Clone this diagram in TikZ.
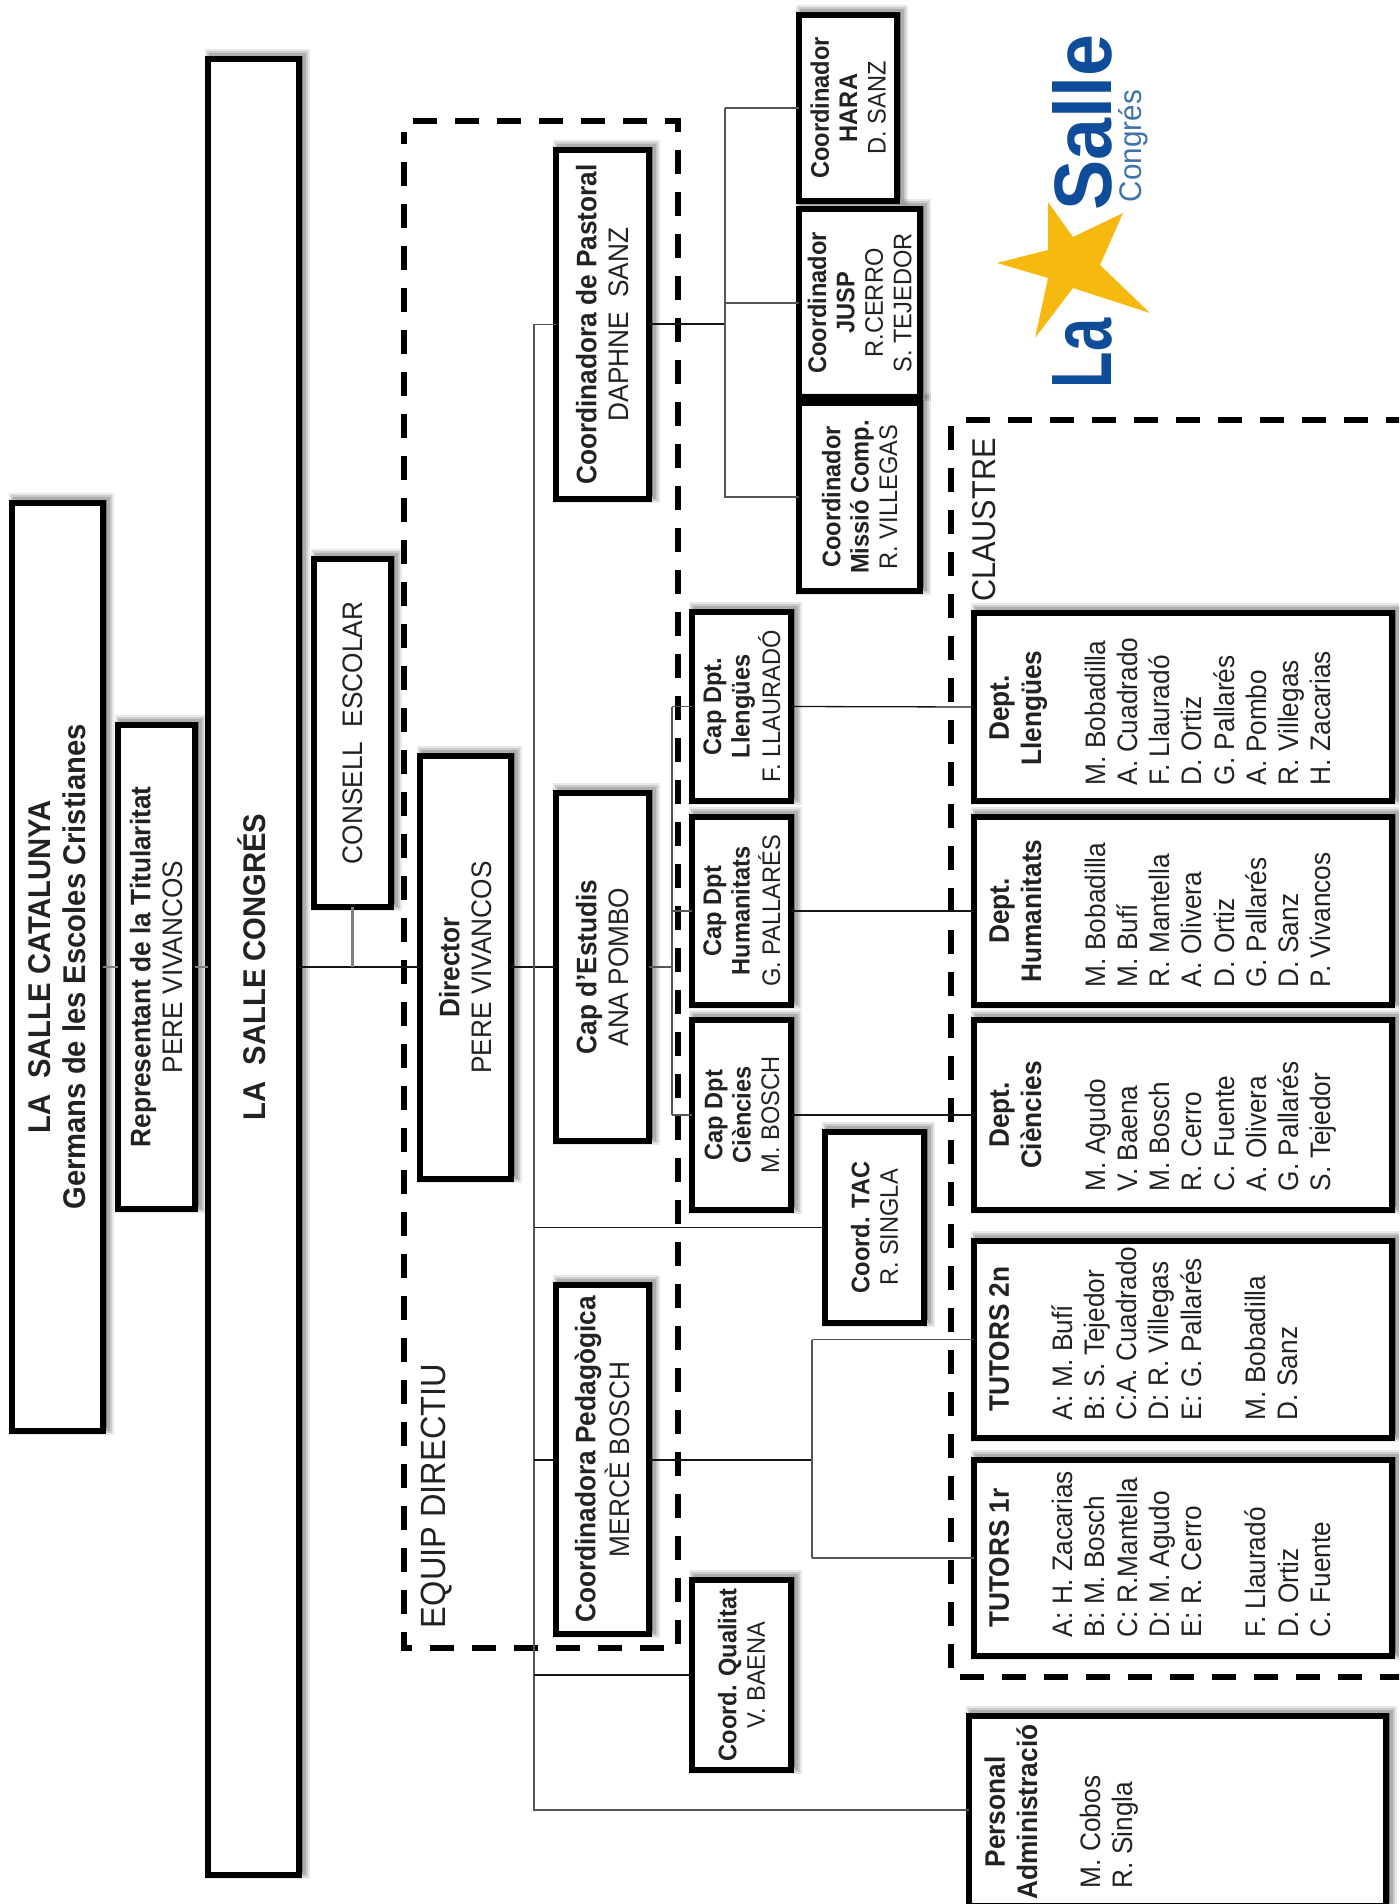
\documentclass[tikz,border=0pt]{standalone}
\usepackage{fontspec}
\usepackage{graphicx}
\setmainfont[FakeStretch=0.93]{Liberation Sans}
\definecolor{inkc}{HTML}{222222}
\definecolor{linec}{HTML}{555555}
\definecolor{dark}{HTML}{151515}
\definecolor{sblue}{HTML}{0F4C9A}
\definecolor{cblue}{HTML}{3F72A8}
\definecolor{stary}{HTML}{F5B90F}
\tikzset{
  bx/.style={draw=black,line width=2.75pt,fill=white,inner sep=0pt,outer sep=0pt,text=inkc,align=center,
    preaction={draw=black,fill=black,opacity=.09,line width=7pt,transform canvas={xshift=2pt,yshift=1.5pt}},
    preaction={draw=black,fill=black,opacity=.12,line width=5pt,transform canvas={xshift=2pt,yshift=1.5pt}},
    preaction={draw=black,fill=black,opacity=.15,line width=3pt,transform canvas={xshift=2pt,yshift=1.5pt}}},
  fmain/.style={font=\fontsize{14.1}{16.1}\selectfont},
  fsmall/.style={font=\fontsize{12.7}{14.2}\selectfont},
  ftop/.style={font=\fontsize{15.7}{17.6}\selectfont},
  lbl/.style={inner sep=0pt,outer sep=0pt,text=inkc},
  dashbox/.style={draw=black,line width=3pt,dash pattern=on 12pt off 9pt},
  conn/.style={draw=dark,line width=.65pt},
  connl/.style={draw=linec,line width=.7pt},
  conng/.style={draw=gray,line width=1.4pt},
}
\newcommand{\bxn}[7][fmain]{\node[bx,#1,minimum width={(#4-#2)*0.5pt},minimum height={(#5-#3)*0.5pt}] (#6) at ({(#2+#4)/2},{(#3+#5)/2}) {#7};}
\newcommand{\rr}[1]{\hspace{3.5pt}\rotatebox{90}{\begin{tabular}{@{}c@{}}#1\end{tabular}}}
\newcommand{\rl}[1]{\hspace{3.5pt}\rotatebox{90}{\begin{tabular}{@{}l@{}}#1\end{tabular}}}
\begin{document}
\begin{tikzpicture}[x=0.5pt,y=-0.5pt]
\clip (0,0) rectangle (1399,1904);
\useasboundingbox (0,0) rectangle (1399,1904);
\coordinate (main) at (0,967);
\coordinate (spine) at (534,0);
\coordinate (capbr) at (672,0);
\coordinate (pasbr) at (725,0);
\coordinate (pedbr) at (812,0);
% dashed groups
\draw[dashbox] (413,121) -- (678,121) -- (678,1648) -- (404,1648) -- (404,132);
\draw[dashbox] (966,420) -- (1420,420);
\draw[dashbox] (951,426) -- (951,1668);
\draw[dashbox] (960,1677) -- (1420,1677);
% boxes
\bxn[ftop]{12}{503}{103}{1431}{cat}{\rr{\textbf{LA\ \ SALLE CATALUNYA}\\ \textbf{Germans de les Escoles Cristianes}}}
\bxn{118}{725}{195}{1209}{rep}{\rr{\textbf{Representant de la Titularitat}\\ PERE VIVANCOS}}
\bxn[ftop]{208}{59}{299}{1875}{con}{\rr{\textbf{LA\ \ SALLE CONGRÉS}}}
\bxn{314}{559}{391}{907}{cons}{\rr{CONSELL\ \ ESCOLAR}}
\bxn{420}{756}{511}{1179}{dir}{\rr{\textbf{Director}\\ PERE VIVANCOS}}
\bxn{556}{150}{649}{499}{pas}{\rr{\textbf{Coordinadora de Pastoral}\\ DAPHNE\ \ SANZ}}
\bxn{556}{793}{649}{1141}{est}{\rr{\textbf{Cap d'Estudis}\\ ANA POMBO}}
\bxn{556}{1285}{649}{1634}{ped}{\rr{\textbf{Coordinadora Pedagògica}\\ MERCÈ BOSCH}}
\bxn[fsmall]{692}{612}{791}{801}{cll}{\rr{\textbf{Cap Dpt.}\\ \textbf{Llengües}\\ F. LLAURADÓ}}
\bxn[fsmall]{692}{817}{791}{1005}{chu}{\rr{\textbf{Cap Dpt}\\ \textbf{Humanitats}\\ G. PALLARÉS}}
\bxn[fsmall]{692}{1020}{791}{1210}{cci}{\rr{\textbf{Cap Dpt}\\ \textbf{Ciències}\\ M. BOSCH}}
\bxn[fsmall]{692}{1580}{791}{1770}{qua}{\rr{\textbf{Coord. Qualitat}\\ V. BAENA}}
\bxn[fsmall]{825}{1132}{924}{1323}{tac}{\rr{\textbf{Coord. TAC}\\ R. SINGLA}}
\bxn[fsmall]{799}{15}{897}{201}{har}{\rr{\textbf{Coordinador}\\ \textbf{HARA}\\ D. SANZ}}
\bxn[fsmall]{799}{209}{920}{397}{jus}{\rr{\textbf{Coordinador}\\ \textbf{JUSP}\\ R.CERRO\\ S. TEJEDOR}}
\bxn[fsmall]{799}{403}{920}{591}{mis}{\rr{\textbf{Coordinador}\\ \textbf{Missió Comp.}\\ R. VILLEGAS}}
\bxn{974}{613}{1392}{801}{dll}{}
\bxn{974}{817}{1392}{1005}{dhu}{}
\bxn{974}{1020}{1392}{1210}{dci}{}
\bxn{974}{1241}{1392}{1438}{t2}{}
\bxn{974}{1460}{1392}{1656}{t1}{}
\bxn{969}{1716}{1386}{1906}{per}{}
% box contents
\node[lbl,fmain] (hll) at (1015,708) {\rr{\textbf{Dept.}\\ \textbf{Llengües}}};
\node[lbl,fmain,anchor=south] (lll) at (1208,785) {\rl{M. Bobadilla\\ A. Cuadrado\\ F. Llauradó\\ D. Ortiz\\ G. Pallarés\\ A. Pombo\\ R. Villegas\\ H. Zacarias}};
\node[lbl,fmain] (hhu) at (1015,911) {\rr{\textbf{Dept.}\\ \textbf{Humanitats}}};
\node[lbl,fmain,anchor=south] (lhu) at (1208,987) {\rl{M. Bobadilla\\ M. Bufí\\ R. Mantella\\ A. Olivera\\ D. Ortiz\\ G. Pallarés\\ D. Sanz\\ P. Vivancos}};
\node[lbl,fmain] (hci) at (1015,1115) {\rr{\textbf{Dept.}\\ \textbf{Ciències}}};
\node[lbl,fmain,anchor=south] (lci) at (1208,1191) {\rl{M. Agudo\\ V. Baena\\ M. Bosch\\ R. Cerro\\ C. Fuente\\ A. Olivera\\ G. Pallarés\\ S. Tejedor}};
\node[lbl,fmain] (ht2) at (999,1339) {\rr{\textbf{TUTORS 2n}}};
\node[lbl,fmain,anchor=south] (lt2) at (1175,1420) {\rl{A: M. Bufí\\ B: S. Tejedor\\ C:A. Cuadrado\\ D: R. Villegas\\ E: G. Pallarés\\ ~\\ M. Bobadilla\\ D. Sanz}};
\node[lbl,fmain] (ht1) at (999,1558) {\rr{\textbf{TUTORS 1r}}};
\node[lbl,fmain,anchor=south] (lt1) at (1191.5,1637) {\rl{A: H. Zacarias\\ B: M. Bosch\\ C: R.Mantella\\ D: M. Agudo\\ E: R. Cerro\\ ~\\ F. Llauradó\\ D. Ortiz\\ C. Fuente}};
\node[lbl,fmain] (hpe) at (1011,1812) {\rr{\textbf{Personal}\\ \textbf{Administració}}};
\node[lbl,fmain,anchor=south] (lpe) at (1106.5,1888) {\rl{M. Cobos\\ R. Singla}};
\node[lbl,font=\fontsize{17.5}{20}\selectfont,anchor=south] (equip) at (437,1628) {\rotatebox{90}{EQUIP DIRECTIU}};
\node[lbl,font=\fontsize{16.5}{20}\selectfont] (claus) at (984,520) {\rotatebox{90}{CLAUSTRE}};
% connectors
\draw[conng] (cat.east |- main) -- (rep.west |- main);
\draw[conng] (rep.east |- main) -- (con.west |- main);
\draw[conn] (con.east |- main) -- (dir.west |- main);
\draw[conng] (cons.south) -- (cons.south |- main);
\draw[conn,line width=1pt] (dir.east |- main) -- (est.west |- main);
\draw[connl] (spine |- pas.west) -- (pas.west);
\draw[connl] (spine |- pas.west) -- (spine |- 0,1810) -- (per.west |- 0,1810);
\draw[conn] (spine |- tac.west) -- (tac.west);
\draw[conn] (spine |- 0,1460) -- (ped.west |- 0,1460);
\draw[conn] (spine |- qua.west) -- (qua.west);
\draw[conn] (pas.east |- 0,324) -- (pasbr |- 0,324);
\draw[connl] (pasbr |- har.west) -- (har.west);
\draw[connl] (pasbr |- har.west) -- (pasbr |- mis.west) -- (mis.west);
\draw[connl] (pasbr |- jus.west) -- (jus.west);
\draw[connl] (est.east |- main) -- (capbr |- main);
\draw[connl] (capbr |- cll.west) -- (capbr |- cci.west);
\draw[connl] (capbr |- cll.west) -- (cll.west);
\draw[connl] (capbr |- chu.west) -- (chu.west);
\draw[connl] (capbr |- cci.west) -- (cci.west);
\draw[conn] (cll.east) -- (dll.west);
\draw[conn] (chu.east) -- (dhu.west);
\draw[conn] (cci.east) -- (dci.west);
\draw[conn] (ped.east |- 0,1460) -- (pedbr |- 0,1460);
\draw[connl] (pedbr |- t2.west) -- (pedbr |- t1.west);
\draw[connl] (pedbr |- t2.west) -- (t2.west);
\draw[connl] (pedbr |- t1.west) -- (t1.west);
% logo
\fill[stary] (997,263) -- (1048,250) -- (1048,202) -- (1073,237) -- (1123,213) -- (1100,265) -- (1150,313) -- (1073,288) -- (1035,338) -- (1048,278) -- cycle;
\node[lbl,text=sblue] (lasal) at (1082.5,122.5) {\rotatebox{90}{\resizebox{88pt}{29.5pt}{\textbf{Salle}}}};
\node[lbl,text=sblue] (lala) at (1082.5,353) {\rotatebox{90}{\resizebox{35pt}{29.5pt}{\textbf{La}}}};
\node[lbl,text=cblue] (lacon) at (1133,146) {\rotatebox{90}{\resizebox{56pt}{11.5pt}{Congrés}}};
\end{tikzpicture}
\end{document}
